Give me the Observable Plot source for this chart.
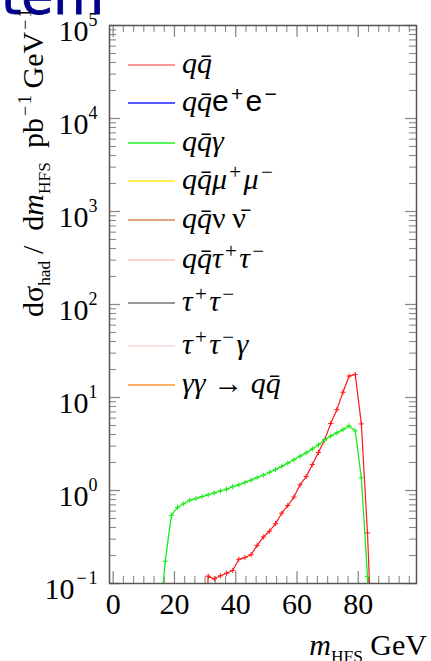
<!DOCTYPE html>
<html><head><meta charset="utf-8">
<script src="https://cdn.jsdelivr.net/npm/d3@7"></script>
<script src="https://cdn.jsdelivr.net/npm/@observablehq/plot@0.6"></script>
<style>
html,body{margin:0;padding:0;background:#fff;overflow:hidden;}
#chart svg{display:block;}
</style>
</head><body><div id="chart"></div>
<script>
// ---------------- data ----------------
// q qbar  (red)
const qqX = [29,31,33,35,37,39,41,43,45,47,49,51,53,55,57,59,61,63,65,67,69,71,73,75,77,79,81,83,85];
const qqY = [0.001,0.12,0.112,0.121,0.129,0.138,0.182,0.19,0.204,0.257,0.316,0.365,0.44,0.57,0.69,0.85,1.15,1.41,1.9,2.57,3.5,5.25,7.4,11.4,17.0,17.7,5.2,0.35,0.008];
// q qbar gamma (green)
const qqgX = [15,17,19,21,23,25,27,29,31,33,35,37,39,41,43,45,47,49,51,53,55,57,59,61,63,65,67,69,71,73,75,77,79,81,83,85];
const qqgY = [0.033,0.174,0.54,0.66,0.72,0.785,0.82,0.86,0.90,0.94,0.99,1.03,1.10,1.15,1.22,1.29,1.38,1.46,1.57,1.68,1.82,1.97,2.14,2.34,2.54,2.8,3.1,3.5,3.85,4.17,4.52,4.95,4.37,1.37,0.119,0.001];
// axes
const xTickValues = [0,20,40,60,80];
const yTickExponents = [-1,0,1,2,3,4,5];
// legend  (markup: @{} italic, #{} sans, ^{} sup, _{} sub, ~ small space)
const legendLabels = [
  "@{qq̄}",
  "@{qq̄}#{e}^{#{~+~}}#{e}^{#{~−~}}",
  "@{qq̄γ}",
  "@{qq̄μ}^{~+~}@{μ}^{~−~}",
  "@{qq̄}ν~~ν̄",
  "@{qq̄τ}^{~+~}@{τ}^{~−~}",
  "@{τ}^{~+~}@{τ}^{~−~}",
  "@{τ}^{~+~}@{τ}^{~−~}@{γ}",
  "@{γγ} → @{qq̄}"
];
const legendColors = ["#ff2a2a","#5858ff","#1ef01e","#f8f050","#d08a55","#ffd0d0","#333333","#ffc4c4","#ffae62"];
const titleText = "tem";
const yTitle = "dσ_{had}~~/\u2002d@{m}_{HFS}~~ pb^{~−~1}~~GeV^{~−~1}";
const xTitle = "@{m}_{HFS} GeV";

// ---------------- layout / style ----------------
const W = 431, H = 661;
const M = {left: 109, right: 15, top: 25, bottom: 78};
const FW = W - M.left - M.right, FH = H - M.top - M.bottom;
const SERIF = "'Liberation Serif', 'DejaVu Serif', serif";
const SANS = "'Liberation Sans', Arial, sans-serif";
const legendRowY = [65,103,143,181,220,260,303,346,385];
const legendWidths = [1.2,2,1.4,1.8,1.4,2,1.2,1.2,2.2];

const qq = qqX.map((x,i)=>({x, y: qqY[i]}));
const qqg = qqgX.map((x,i)=>({x, y: qqgY[i]}));
const xDomain = [-1.2, 99];
const yDomain = [0.1, 1e5];
const inDom = d => d.y >= yDomain[0];

const yMajor = yTickExponents.map(e => 10 ** e);
const yMinor = [];
for (let e = yTickExponents[0]; e < yTickExponents[yTickExponents.length-1]; e++)
  for (let k = 2; k <= 9; k++) yMinor.push(k * 10 ** e);
const xMinor = [];
{
  const step = (xTickValues[1]-xTickValues[0]) / 6;
  for (let i = 1; i * step < xDomain[1]; i++) if (i % 6) xMinor.push(i * step);
}
const tickC = "#8a8a8a", frameC = "#555";

const plot = Plot.plot({
  width: W, height: H,
  marginLeft: M.left, marginRight: M.right, marginTop: M.top, marginBottom: M.bottom,
  x: {domain: xDomain, axis: null},
  y: {type: "log", domain: yDomain, axis: null},
  style: {background: "white", overflow: "hidden"},
  marks: [
    // ticks
    Plot.ruleX(xTickValues, {x: d=>d, insetTop: FH-12, stroke: tickC, strokeWidth: 1.3}),
    Plot.ruleX(xTickValues, {x: d=>d, insetBottom: FH-12, stroke: tickC, strokeWidth: 1.3}),
    Plot.ruleX(xMinor, {x: d=>d, insetTop: FH-7, stroke: tickC, strokeWidth: 1.1}),
    Plot.ruleX(xMinor, {x: d=>d, insetBottom: FH-7, stroke: tickC, strokeWidth: 1.1}),
    Plot.ruleY(yMajor, {y: d=>d, insetRight: FW-11, stroke: tickC, strokeWidth: 1.3}),
    Plot.ruleY(yMajor, {y: d=>d, insetLeft: FW-11, stroke: tickC, strokeWidth: 1.3}),
    Plot.ruleY(yMinor, {y: d=>d, insetRight: FW-7, stroke: tickC, strokeWidth: 1.1}),
    Plot.ruleY(yMinor, {y: d=>d, insetLeft: FW-7, stroke: tickC, strokeWidth: 1.1}),
    // data
    Plot.line(qq, {x: "x", y: "y", stroke: "#ff1a1a", strokeWidth: 1.2, clip: true}),
    Plot.dot(qq.filter(inDom), {x: "x", y: "y", symbol: "plus", r: 1.8, stroke: "#ff1a1a", strokeWidth: 1, clip: true}),
    Plot.line(qqg, {x: "x", y: "y", stroke: "#18ec18", strokeWidth: 1.3, clip: true}),
    Plot.dot(qqg.filter(inDom), {x: "x", y: "y", symbol: "plus", r: 1.8, stroke: "#18ec18", strokeWidth: 1, clip: true}),
    Plot.frame({stroke: frameC, strokeWidth: 1.5}),
    // tick labels
    Plot.text(yTickExponents, {frameAnchor: "left", y: e => 10 ** e, text: e => `10^{${e < 0 ? "~−~" + (-e) : e}}`,
      textAnchor: "end", lineAnchor: "bottom", dx: -12, dy: 15, fontSize: 30, fontFamily: SERIF, fill: "black"}),
    Plot.text(xTickValues, {frameAnchor: "bottom", x: d=>d, text: d => String(d),
      textAnchor: "middle", lineAnchor: "bottom", dy: 30, fontSize: 30, fontFamily: SERIF, fill: "black"})
  ]
});

// ---------------- rich text helper ----------------
const NS = "http://www.w3.org/2000/svg";
function richText(el, markup, size, opt = {}) {
  const supScale = opt.supScale ?? 0.7, supShift = opt.supShift ?? 0.33;
  const subScale = opt.subScale ?? 0.58, subShift = opt.subShift ?? 0.22;
  el.textContent = "";
  let cur = 0, pendingDx = 0;
  function out(str, st) {
    if (!str) return;
    const t = document.createElementNS(NS, "tspan");
    t.textContent = str;
    t.setAttribute("font-size", st.size);
    if (st.italic) t.setAttribute("font-style", "italic");
    if (st.family) t.setAttribute("font-family", st.family);
    const dy = st.shift - cur;
    if (dy) t.setAttribute("dy", dy);
    if (pendingDx) t.setAttribute("dx", pendingDx);
    pendingDx = 0;
    cur = st.shift;
    el.appendChild(t);
  }
  function parse(s, st) {
    let buf = "";
    for (let i = 0; i < s.length; i++) {
      const c = s[i];
      if (c === "~") { out(buf, st); buf = ""; pendingDx += st.size * 0.11; continue; }
      if ("^_@#".includes(c) && s[i+1] === "{") {
        out(buf, st); buf = "";
        let depth = 0, j = i + 1;
        for (; j < s.length; j++) {
          if (s[j] === "{") depth++;
          else if (s[j] === "}") { depth--; if (!depth) break; }
        }
        const inner = s.slice(i + 2, j);
        const ns = {...st};
        if (c === "^") { ns.size = st.size * supScale; ns.shift = st.shift - st.size * supShift; }
        if (c === "_") { ns.size = st.size * subScale; ns.shift = st.shift + st.size * subShift; }
        if (c === "@") ns.italic = true;
        if (c === "#") ns.family = SANS;
        parse(inner, ns);
        i = j;
      } else buf += c;
    }
    out(buf, st);
  }
  parse(markup, {size, shift: 0, italic: false, family: null});
}

// convert markup in Plot tick labels
plot.querySelectorAll("text").forEach(t => {
  const s = t.textContent;
  if (/[\^_@#]\{/.test(s)) richText(t, s, 30, {supScale: 0.6, supShift: 0.5});
});

const svg = d3.select(plot);
// title fragment
svg.append("text").attr("x", 104).attr("y", 14).attr("text-anchor", "end")
  .attr("font-family", "'DejaVu Sans', sans-serif").attr("font-size", 52).attr("fill", "#00008b")
  .attr("stroke", "#00008b").attr("stroke-width", 0.8).text(titleText);
// y title
{
  const t = svg.append("text").attr("transform", "translate(43,317) rotate(-90)").attr("text-anchor", "start")
    .attr("font-family", SERIF).attr("font-size", 30).attr("fill", "black");
  richText(t.node(), yTitle, 30, {supScale: 0.6, supShift: 0.4});
}
// x title
{
  const t = svg.append("text").attr("x", 427).attr("y", 655).attr("text-anchor", "end")
    .attr("font-family", SERIF).attr("font-size", 30).attr("fill", "black");
  richText(t.node(), xTitle, 30);
}
// legend
{
  const g = svg.append("g").attr("text-anchor", "start");
  legendLabels.forEach((lab, i) => {
    const y = legendRowY[i];
    g.append("line").attr("x1", 128).attr("x2", 175).attr("y1", y).attr("y2", y)
      .attr("stroke", legendColors[i]).attr("stroke-width", legendWidths[i]);
    const t = g.append("text").attr("x", 182).attr("y", y + 8).attr("text-anchor", "start")
      .attr("font-family", SERIF).attr("font-size", 30).attr("fill", "black");
    richText(t.node(), lab, 30);
  });
}
document.getElementById("chart").appendChild(plot);
</script>
</body></html>
